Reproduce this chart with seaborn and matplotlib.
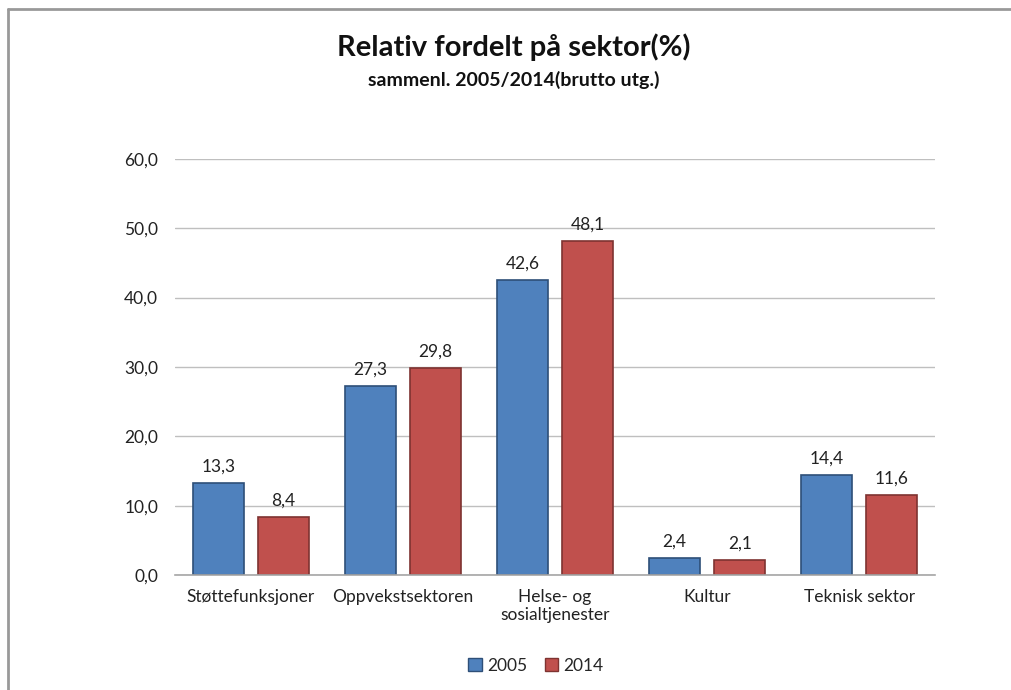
import seaborn as sns
import pandas as pd
import matplotlib
matplotlib.use("Agg")
from matplotlib import pyplot as plt
from matplotlib.lines import Line2D
from matplotlib.patches import Patch

# data
sektorer = ["Støttefunksjoner", "Oppvekstsektoren", "Helse- og\nsosialtjenester", "Kultur", "Teknisk sektor"]
verdi_2005 = [13.3, 27.3, 42.6, 2.4, 14.4]
verdi_2014 = [8.4, 29.8, 48.1, 2.1, 11.6]
aar = ["2005", "2014"]
yticks = [0, 10, 20, 30, 40, 50, 60]

df = pd.DataFrame({
    "sektor": sektorer * 2,
    "aar": [aar[0]] * len(sektorer) + [aar[1]] * len(sektorer),
    "verdi": verdi_2005 + verdi_2014,
})

sns.set_style("white")
plt.rcParams['font.family'] = ['Lato', 'DejaVu Sans']

farger = {"2005": "#4F81BD", "2014": "#C0504D"}
kanter = {"2005": "#2E4F78", "2014": "#7E3331"}

fig = plt.figure(figsize=(10.11, 6.9), dpi=100)
ax = fig.add_axes([0.173, 0.1667, 0.752, 0.603])

sns.barplot(data=df, x="sektor", y="verdi", hue="aar", palette=farger, saturation=1,
            width=0.86, gap=0.22, ax=ax, legend=False, linewidth=1.2)

for cont, a in zip(ax.containers, aar):
    for p in cont:
        p.set_edgecolor(kanter[a])
    ax.bar_label(cont, labels=[f"{v:.1f}".replace(".", ",") for v in cont.datavalues],
                 padding=6, fontsize=12.5, color="#222222")

ax.set_ylim(0, 60)
ax.set_yticks(yticks)
ax.set_yticklabels([f"{v:.1f}".replace(".", ",") for v in yticks], fontsize=12.5, color="#222222")
ax.tick_params(axis="x", labelsize=12.5, colors="#222222", length=0, pad=10)
ax.tick_params(axis="y", length=0, pad=12)
ax.set_xlabel("")
ax.set_ylabel("")
ax.yaxis.grid(True, color="#BFBFBF", linewidth=1)
ax.set_axisbelow(True)
for s in ["left", "right", "top"]:
    ax.spines[s].set_visible(False)
ax.spines["bottom"].set_color("#A6A6A6")
ax.spines["bottom"].set_linewidth(1.2)

fig.text(0.508, 0.932, "Relativ fordelt på sektor(%)", ha="center", va="center",
         fontsize=21, fontweight="bold", color="#111111")
fig.text(0.508, 0.884, "sammenl. 2005/2014(brutto utg.)", ha="center", va="center",
         fontsize=14, fontweight="bold", color="#111111")

handles = [Patch(facecolor=farger[a], edgecolor=kanter[a], label=a) for a in aar]
fig.legend(handles=handles, loc="center", bbox_to_anchor=(0.53, 0.035), ncol=2,
           frameon=False, fontsize=12.5, handlelength=0.8, handleheight=0.8,
           handletextpad=0.3, columnspacing=1.0)

# ramme
fig.add_artist(Line2D([0.008, 1.0], [0.987, 0.987], color="#999999", linewidth=2))
fig.add_artist(Line2D([0.008, 0.008], [0.0, 0.987], color="#999999", linewidth=2))

fig.savefig("out.png", dpi=100)
